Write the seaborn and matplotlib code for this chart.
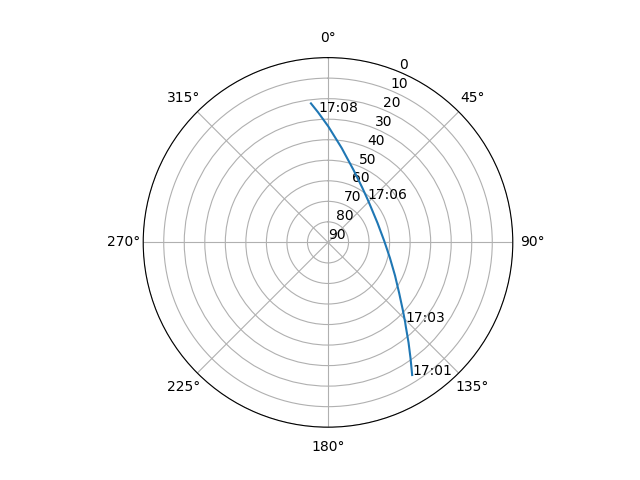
import numpy as np
import pandas as pd
import matplotlib
matplotlib.use("Agg")
import matplotlib.pyplot as plt
import seaborn as sns

# Satellite pass: azimuth (deg, clockwise from North) and elevation (deg)
azimuth = [147.6, 144.5, 141.2, 137.1, 136.0, 132.1, 125.4, 116.3, 104.1,
           88.6, 68.6, 48.9, 42.5, 31.9, 19.4, 8.2, 0.2, -3.6, -4.4, -7.0]
elevation = [13.5, 20.8, 27.4, 34.4, 35.9, 40.9, 47.5, 53.6, 58.9,
             62.6, 64.1, 62.7, 61.5, 58.5, 52.6, 43.5, 33.6, 27.8, 26.4, 21.8]
time_labels = ["17:01", "", "", "", "17:03", "", "", "", "",
               "", "", "", "17:06", "", "", "", "", "", "17:08", ""]
elev_ticks = [0, 10, 20, 30, 40, 50, 60, 70, 80, 90]

df = pd.DataFrame({"theta": np.radians(azimuth), "el": elevation,
                   "label": time_labels})

fig = plt.figure(figsize=(6.4, 4.8), dpi=100)
ax = fig.add_subplot(projection="polar")
ax.set_theta_zero_location("N")
ax.set_theta_direction(-1)

sns.lineplot(data=df, x="theta", y="el", sort=False, estimator=None, ax=ax)

for _, row in df.iterrows():
    if row["label"]:
        ax.text(row["theta"], row["el"], row["label"])

ax.set_ylim(90, 0)
ax.set_yticks(elev_ticks)
ax.set_xlabel("")
ax.set_ylabel("")

fig.savefig("out.png", dpi=100)
